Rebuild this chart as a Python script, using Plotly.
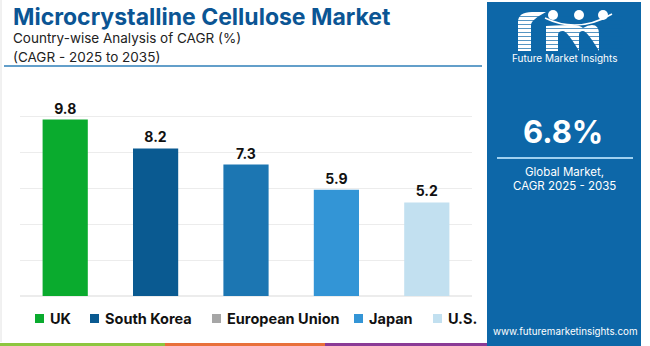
import plotly.graph_objects as go

countries = ["UK", "South Korea", "European Union", "Japan", "U.S."]
cagr = [9.8, 8.2, 7.3, 5.9, 5.2]
bar_colors = ["#0aab2e", "#0a5a91", "#1c76b2", "#3395d6", "#c2e0f0"]
legend_colors = ["#0aab2e", "#0a5a91", "#a6a6a6", "#3395d6", "#c2e0f0"]
y_ticks = [0, 2, 4, 6, 8, 10, 12]

# layout: legend entry left edges (pixels)
legend_x = [35, 90, 212, 354, 433]

W, H = 650, 346
def px(x):
    return x / W
def py(y):
    return 1 - y / H

def path(cmds, close=True):
    out = []
    for c, pts in cmds:
        out.append(c + " " + " ".join(f"{px(x):.5f},{py(y):.5f}" for x, y in pts))
    return " ".join(out) + (" Z" if close else "")

def rect_path(x0, y0, x1, y1):
    return path([("M", [(x0, y0)]), ("L", [(x1, y0), (x1, y1), (x0, y1)])])

fig = go.Figure()
fig.add_trace(go.Bar(
    x=countries, y=cagr, marker=dict(color=bar_colors, line=dict(width=0)),
    text=[f"{v:.1f}" for v in cagr], textposition="outside",
    textfont=dict(family="Inter", size=14, color="#111111", weight="bold"),
    cliponaxis=False, showlegend=False, width=0.5,
))

panel = "#0d67a8"
shapes = [
    dict(type="line", xref="paper", yref="paper", x0=px(1), x1=px(1), y0=py(0), y1=py(342),
         line=dict(color="#e2e2e2", width=1)),
    dict(type="line", xref="paper", yref="paper", x0=px(4), x1=px(482), y0=py(66), y1=py(66),
         line=dict(color="#2f7fb8", width=1.5)),
    dict(type="rect", xref="paper", yref="paper", x0=px(487), x1=px(641), y0=py(346), y1=py(2),
         fillcolor=panel, line=dict(width=0), layer="below"),
    dict(type="line", xref="paper", yref="paper", x0=px(497), x1=px(633), y0=py(158), y1=py(158),
         line=dict(color="#9fd0f0", width=2)),
    dict(type="rect", xref="paper", yref="paper", x0=0, x1=px(165), y0=0, y1=py(343),
         fillcolor="#8dc63f", line=dict(width=0)),
    dict(type="rect", xref="paper", yref="paper", x0=px(165), x1=px(325), y0=0, y1=py(343),
         fillcolor="#e8703a", line=dict(width=0)),
    dict(type="rect", xref="paper", yref="paper", x0=px(325), x1=px(487), y0=0, y1=py(343),
         fillcolor="#8a3a96", line=dict(width=0)),
]

# ---- logo drawn as shapes (graphic, not text) ----
logo_parts = [
    path([("M", [(518, 51)]), ("L", [(518, 22)]), ("Q", [(518, 12), (532, 12)]),
          ("L", [(546, 12), (546, 20), (536, 20)]), ("Q", [(531, 20), (531, 25)]),
          ("L", [(531, 51)])]),
    rect_path(512, 26, 541, 31),
    rect_path(512, 47, 537, 51),
    path([("M", [(546, 51)]), ("L", [(546, 26), (558, 26)]), ("Q", [(566, 25), (572, 25)]),
          ("Q", [(580, 25), (583, 28)]), ("Q", [(588, 25), (592, 25)]), ("Q", [(599, 25), (599, 34)]),
          ("L", [(599, 51), (587, 51), (587, 35)]), ("Q", [(587, 31), (583, 31)]),
          ("Q", [(579, 31), (579, 35)]), ("L", [(579, 51), (567, 51), (567, 35)]),
          ("Q", [(567, 31), (563, 31)]), ("Q", [(558, 31), (558, 35)]), ("L", [(558, 51)])]),
    rect_path(542, 47, 562, 51),
    rect_path(563, 47, 583, 51),
    rect_path(584, 47, 603, 51),
    rect_path(605, 28, 617, 51),
    rect_path(600, 28, 617, 32),
    rect_path(601, 47, 621, 51),
]
for p in logo_parts:
    shapes.append(dict(type="path", xref="paper", yref="paper", path=p,
                       fillcolor="white", line=dict(width=0)))
for yy in range(16, 52, 4):
    shapes.append(dict(type="line", xref="paper", yref="paper", x0=px(510), x1=px(623),
                       y0=py(yy + 0.5), y1=py(yy + 0.5), line=dict(color=panel, width=0.7)))
for cx in [553, 579, 603]:
    shapes.append(dict(type="circle", xref="paper", yref="paper", x0=px(cx - 5), x1=px(cx + 5),
                       y0=py(20), y1=py(10), fillcolor="white", line=dict(width=0)))
shapes.append(dict(type="path", xref="paper", yref="paper",
                   path=path([("M", [(545, 18)]), ("Q", [(578, 34), (612, 14)])], close=False),
                   line=dict(color="white", width=1.5)))

annotations = [
    dict(text="<b>Microcrystalline Cellulose Market</b>", x=px(11), y=py(17), xanchor="left", yanchor="middle",
         font=dict(family="Inter", size=23, color="#0b5594"), showarrow=False),
    dict(text="Country-wise Analysis of CAGR (%)", x=px(11), y=py(38), xanchor="left", yanchor="middle",
         font=dict(family="Inter", size=13.5, color="#222222"), showarrow=False),
    dict(text="(CAGR - 2025 to 2035)", x=px(11), y=py(57), xanchor="left", yanchor="middle",
         font=dict(family="Inter", size=13.5, color="#222222"), showarrow=False),
    dict(text="Future Market Insights", x=px(564), y=py(58), xanchor="center", yanchor="middle",
         font=dict(family="Inter", size=10, color="white"), showarrow=False),
    dict(text="<b>6.8%</b>", x=px(563), y=py(132), xanchor="center", yanchor="middle",
         font=dict(family="Inter", size=31, color="white"), showarrow=False),
    dict(text="Global Market,", x=px(564), y=py(172), xanchor="center", yanchor="middle",
         font=dict(family="Inter", size=11.5, color="white"), showarrow=False),
    dict(text="CAGR 2025 - 2035", x=px(564), y=py(186), xanchor="center", yanchor="middle",
         font=dict(family="Inter", size=11.5, color="white"), showarrow=False),
    dict(text="www.futuremarketinsights.com", x=px(565), y=py(331), xanchor="center", yanchor="middle",
         font=dict(family="Inter", size=9.8, color="white"), showarrow=False),
]

# manual legend
for name, col, lx in zip(countries, legend_colors, legend_x):
    shapes.append(dict(type="rect", xref="paper", yref="paper", x0=px(lx), x1=px(lx + 9),
                       y0=py(323), y1=py(314), fillcolor=col, line=dict(width=0)))
    annotations.append(dict(text=f"<b>{name}</b>", x=px(lx + 13), y=py(318.5), xanchor="left",
                            yanchor="middle", showarrow=False,
                            font=dict(family="Inter", size=14.5, color="#111111")))

for a in annotations:
    a["xref"] = "paper"
    a["yref"] = "paper"

fig.update_layout(
    width=W, height=H, margin=dict(l=0, r=0, t=0, b=0),
    paper_bgcolor="white", plot_bgcolor="white",
    xaxis=dict(domain=[px(20), px(472)], showticklabels=False, showgrid=False, zeroline=False,
               showline=False, ticks=""),
    yaxis=dict(domain=[py(296), py(80)], range=[0, 12], tickvals=y_ticks, showticklabels=False,
               showgrid=True, gridcolor="#ececec", gridwidth=1, zeroline=True, zerolinecolor="#ececec",
               showline=False, ticks=""),
    bargap=0.5, showlegend=False,
    shapes=shapes, annotations=annotations,
)

fig.write_html("out.html")
